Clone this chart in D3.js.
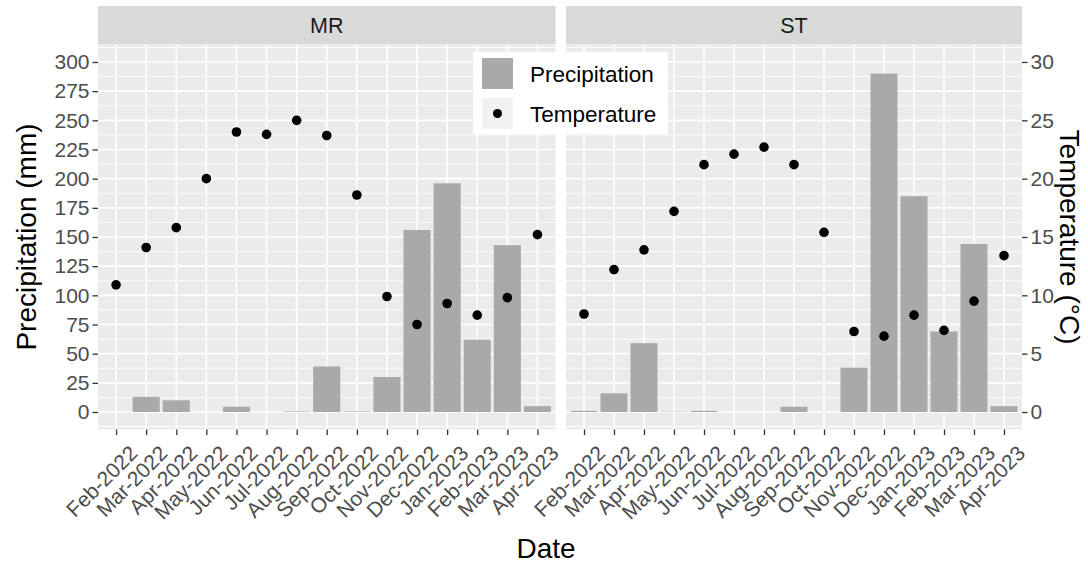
<!DOCTYPE html>
<html>
<head>
<meta charset="utf-8">
<script src="https://cdn.jsdelivr.net/npm/d3@7"></script>
<style>
  body { margin: 0; background: #fff; }
  text { font-family: "Liberation Sans", Arial, sans-serif; }
</style>
</head>
<body>
<div id="chart"></div>
<script>
// monthly precipitation (mm) and mean temperature (°C) for the two sites
var months = ["Feb-2022", "Mar-2022", "Apr-2022", "May-2022", "Jun-2022", "Jul-2022", "Aug-2022",
  "Sep-2022", "Oct-2022", "Nov-2022", "Dec-2022", "Jan-2023", "Feb-2023", "Mar-2023", "Apr-2023"];
var sites = ["MR", "ST"];
var mrPrecip = [0, 13, 10, 0, 4.5, 0, 0.5, 39, 0.5, 30, 156, 196, 62, 143, 5];
var mrTemp = [10.9, 14.1, 15.8, 20.0, 24.0, 23.8, 25.0, 23.7, 18.6, 9.9, 7.5, 9.3, 8.3, 9.8, 15.2];
var stPrecip = [1, 16, 59, 0.3, 1, 0, 0, 4.5, 0, 38, 290, 185, 69, 144, 5];
var stTemp = [8.4, 12.2, 13.9, 17.2, 21.2, 22.1, 22.7, 21.2, 15.4, 6.9, 6.5, 8.3, 7.0, 9.5, 13.4];
var precipTicks = [0, 25, 50, 75, 100, 125, 150, 175, 200, 225, 250, 275, 300];
var tempTicks = [0, 5, 10, 15, 20, 25, 30];

var svgWidth = 1088;
var svgHeight = 569;

var tickFont = "21px";
var titleFont = "28px";

// panel geometry
var panelTop = 44.5;
var panelBottom = 429.5;
var stripTop = 6;
var panels = [
  { site: sites[0], left: 98, right: 555.5, precip: mrPrecip, temp: mrTemp },
  { site: sites[1], left: 566, right: 1022, precip: stPrecip, temp: stTemp }
];

var svg = d3.select("#chart")
  .append("svg")
  .attr("width", svgWidth)
  .attr("height", svgHeight);

// shared y scale; temperature sits on the same axis at x10
var yScale = d3.scaleLinear()
  .domain([-15, 315])
  .range([panelBottom, panelTop]);
var tempScale = d3.scaleLinear()
  .domain([-1.5, 31.5])
  .range([panelBottom, panelTop]);

var minorTicks = d3.range(-12.5, 315, 25);

panels.forEach(function(p) {
  var g = svg.append("g");

  var xScale = d3.scalePoint()
    .domain(months)
    .range([p.left, p.right])
    .padding(0.6);
  var barWidth = xScale.step() * 0.9;

  // strip
  g.append("rect")
    .attr("x", p.left)
    .attr("y", stripTop)
    .attr("width", p.right - p.left)
    .attr("height", panelTop - stripTop)
    .attr("fill", "#d9d9d9");
  g.append("text")
    .attr("x", (p.left + p.right) / 2)
    .attr("y", (stripTop + panelTop) / 2)
    .attr("dy", "0.36em")
    .attr("text-anchor", "middle")
    .attr("font-size", "21.5px")
    .attr("fill", "#1a1a1a")
    .text(p.site);

  // panel background
  g.append("rect")
    .attr("x", p.left)
    .attr("y", panelTop)
    .attr("width", p.right - p.left)
    .attr("height", panelBottom - panelTop)
    .attr("fill", "#ebebeb");

  // grid lines
  g.selectAll(".minor")
    .data(minorTicks)
    .enter()
    .append("line")
    .attr("x1", p.left).attr("x2", p.right)
    .attr("y1", d => yScale(d)).attr("y2", d => yScale(d))
    .attr("stroke", "#fff")
    .attr("stroke-width", 0.9);
  g.selectAll(".major")
    .data(precipTicks)
    .enter()
    .append("line")
    .attr("x1", p.left).attr("x2", p.right)
    .attr("y1", d => yScale(d)).attr("y2", d => yScale(d))
    .attr("stroke", "#fff")
    .attr("stroke-width", 1.6);
  g.selectAll(".vgrid")
    .data(months)
    .enter()
    .append("line")
    .attr("x1", d => xScale(d)).attr("x2", d => xScale(d))
    .attr("y1", panelTop).attr("y2", panelBottom)
    .attr("stroke", "#fff")
    .attr("stroke-width", 1.6);

  // precipitation bars
  g.selectAll(".bar")
    .data(months)
    .enter()
    .append("rect")
    .attr("x", d => xScale(d) - barWidth / 2)
    .attr("width", barWidth)
    .attr("y", (d, i) => yScale(p.precip[i]))
    .attr("height", (d, i) => yScale(0) - yScale(p.precip[i]))
    .attr("fill", "#a9a9a9");

  // temperature points
  g.selectAll(".pt")
    .data(months)
    .enter()
    .append("circle")
    .attr("cx", d => xScale(d))
    .attr("cy", (d, i) => tempScale(p.temp[i]))
    .attr("r", 4.8)
    .attr("fill", "#000");

  // x axis, labels turned 45 degrees
  var xAxis = g.append("g")
    .attr("transform", `translate(0, ${panelBottom})`)
    .call(d3.axisBottom(xScale).tickSize(5.5).tickPadding(4));
  xAxis.select(".domain").remove();
  xAxis.selectAll(".tick line").attr("stroke", "#333").attr("stroke-width", 1.3);
  xAxis.selectAll(".tick text")
    .attr("font-size", tickFont)
    .attr("fill", "#4d4d4d")
    .attr("text-anchor", "end")
    .attr("dy", "0.7em")
    .attr("transform", "translate(5,8) rotate(-45)");
});

// left axis: precipitation
var leftAxis = svg.append("g")
  .attr("transform", `translate(${panels[0].left}, 0)`)
  .call(d3.axisLeft(yScale).tickValues(precipTicks).tickSize(5.5).tickPadding(3));
leftAxis.select(".domain").remove();
leftAxis.selectAll(".tick line").attr("stroke", "#333").attr("stroke-width", 1.3);
leftAxis.selectAll(".tick text").attr("font-size", tickFont).attr("fill", "#4d4d4d");

// right axis: temperature
var rightAxis = svg.append("g")
  .attr("transform", `translate(${panels[1].right}, 0)`)
  .call(d3.axisRight(tempScale).tickValues(tempTicks).tickSize(5.5).tickPadding(3));
rightAxis.select(".domain").remove();
rightAxis.selectAll(".tick line").attr("stroke", "#333").attr("stroke-width", 1.3);
rightAxis.selectAll(".tick text").attr("font-size", tickFont).attr("fill", "#4d4d4d");

// axis titles
svg.append("text")
  .attr("transform", `translate(26, ${(panelTop + panelBottom) / 2}) rotate(-90)`)
  .attr("text-anchor", "middle")
  .attr("dy", "0.36em")
  .attr("font-size", titleFont)
  .attr("fill", "#000")
  .text("Precipitation (mm)");

svg.append("text")
  .attr("transform", `translate(1070, ${(panelTop + panelBottom) / 2}) rotate(90)`)
  .attr("text-anchor", "middle")
  .attr("dy", "0.36em")
  .attr("font-size", titleFont)
  .attr("fill", "#000")
  .text("Temperature (°C)");

svg.append("text")
  .attr("x", 546)
  .attr("y", 548)
  .attr("text-anchor", "middle")
  .attr("dy", "0.36em")
  .attr("font-size", titleFont)
  .attr("fill", "#000")
  .text("Date");

// legend
var legend = svg.append("g").attr("transform", "translate(473, 52)");
legend.append("rect")
  .attr("width", 195).attr("height", 82)
  .attr("fill", "#fff");
legend.append("rect")
  .attr("x", 9).attr("y", 6).attr("width", 31).attr("height", 31)
  .attr("fill", "#a9a9a9");
legend.append("rect")
  .attr("x", 9).attr("y", 46).attr("width", 31).attr("height", 31)
  .attr("fill", "#f2f2f2");
legend.append("circle")
  .attr("cx", 24.5).attr("cy", 61.5).attr("r", 4.5)
  .attr("fill", "#000");
legend.append("text")
  .attr("x", 57).attr("y", 21.5).attr("dy", "0.36em")
  .attr("font-size", "22.5px")
  .text("Precipitation");
legend.append("text")
  .attr("x", 57).attr("y", 61.5).attr("dy", "0.36em")
  .attr("font-size", "22.5px")
  .text("Temperature");
</script>
</body>
</html>
